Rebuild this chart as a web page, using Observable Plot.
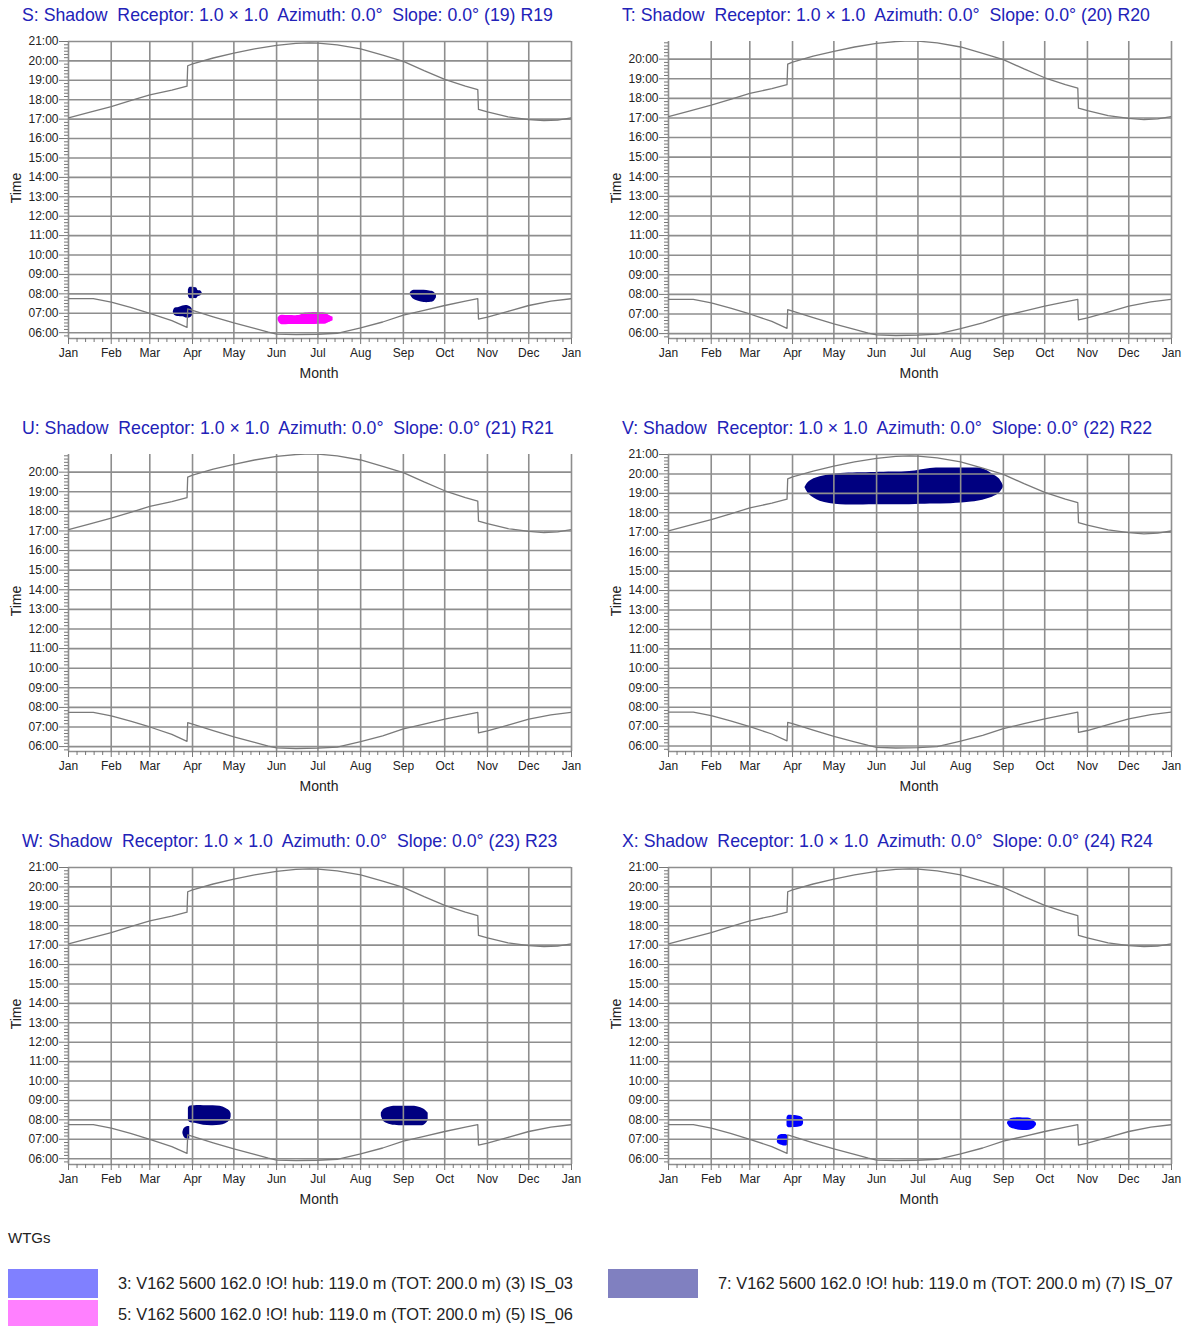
<!DOCTYPE html>
<html><head><meta charset="utf-8">
<script src="https://cdn.jsdelivr.net/npm/d3@7"></script>
<script src="https://cdn.jsdelivr.net/npm/@observablehq/plot@0.6"></script>
<style>
body{margin:0;background:#fff;font-family:"Liberation Sans",Arial,sans-serif;}
#wrap{position:relative;width:1190px;height:1326px;overflow:hidden;background:#fff;}
.title{position:absolute;white-space:pre;color:#2222b8;font-size:17.7px;line-height:20px;}
.panel{position:absolute;}
.xlab{position:absolute;font-size:14px;color:#222;transform:translateX(-50%);}
.ylab{position:absolute;font-size:14px;color:#222;transform:translate(-50%,-50%) rotate(-90deg);}
.legtitle{position:absolute;font-size:15px;color:#222;}
.sw{position:absolute;width:90px;height:29px;}
.legtext{position:absolute;font-size:16.4px;color:#222;white-space:pre;line-height:18px;}
</style></head><body><div id="wrap"></div>
<script>
// ---- data ----
const monthStarts = [0, 31, 59, 90, 120, 151, 181, 212, 243, 273, 304, 334, 365];
const monthLabels = ["Jan","Feb","Mar","Apr","May","Jun","Jul","Aug","Sep","Oct","Nov","Dec","Jan"];

const sunsetDays  = [0, 15, 31, 45, 59, 75, 86, 86.5, 90, 105, 120, 135, 151, 165, 175, 181, 195, 212, 228, 243, 258, 273, 288, 297, 297.5, 304, 319, 334, 345, 355, 365];
const sunsetHours = [17.07, 17.35, 17.65, 17.95, 18.25, 18.5, 18.7, 19.75, 19.85, 20.15, 20.4, 20.62, 20.8, 20.9, 20.93, 20.92, 20.83, 20.62, 20.3, 19.98, 19.5, 19.05, 18.7, 18.52, 17.5, 17.37, 17.12, 16.98, 16.92, 16.95, 17.07];
const sunriseDays  = [0, 18, 31, 45, 59, 75, 86, 86.5, 90, 105, 120, 135, 145, 151, 165, 181, 195, 212, 228, 243, 258, 273, 288, 297, 297.5, 304, 319, 334, 350, 365];
const sunriseHours = [7.75, 7.75, 7.57, 7.3, 7.0, 6.62, 6.27, 7.22, 7.15, 6.82, 6.5, 6.22, 6.03, 5.93, 5.9, 5.92, 5.97, 6.25, 6.55, 6.9, 7.15, 7.4, 7.62, 7.75, 6.7, 6.8, 7.1, 7.4, 7.62, 7.75];

const panelIds  = ["S","T","U","V","W","X"];
const panelNums = [19, 20, 21, 22, 23, 24];
const yTop      = [21, 20.9, 20.9, 21, 21, 21];
const yBottom   = [5.7, 5.75, 5.75, 5.72, 5.7, 5.7];

const wtgIds    = [3, 5, 7];
const wtgLabels = ["3: V162 5600 162.0 !O! hub: 119.0 m (TOT: 200.0 m) (3) IS_03",
                   "5: V162 5600 162.0 !O! hub: 119.0 m (TOT: 200.0 m) (5) IS_06",
                   "7: V162 5600 162.0 !O! hub: 119.0 m (TOT: 200.0 m) (7) IS_07"];
const wtgFill   = ["#0000ff", "#ff00ff", "#000080"];
const wtgSwatch = ["#8080ff", "#ff80ff", "#8080c0"];

// shadow periods: per blob, day of year with start / end time (hours)
const blobPanel = ["S","S","S","S","V","W","W","W","X","X","X"];
const blobWtg   = [7, 7, 7, 5, 7, 7, 7, 7, 3, 3, 3];
const blobDays = [
  [76, 77, 80, 83, 86, 89, 91],
  [87, 88, 91, 93, 94, 96, 97],
  [248, 250, 254, 258, 262, 265, 267],
  [152, 154, 160, 168, 171, 176, 182, 187, 189, 192],
  [99, 102, 110, 125, 150, 175, 190, 205, 220, 228, 235, 240, 243],
  [87, 88, 92, 98, 105, 110, 114, 117, 118],
  [83, 84, 86, 88],
  [227, 229, 234, 240, 247, 253, 258, 261],
  [86, 87, 90, 94, 97, 98],
  [79, 80, 83, 86, 87],
  [246, 248, 252, 257, 262, 265, 267]
];
const blobStart = [
  [7.05, 6.9, 6.83, 6.82, 6.75, 6.8, 7.0],
  [7.9, 7.76, 7.76, 7.76, 7.85, 7.9, 8.0],
  [7.95, 7.75, 7.62, 7.55, 7.55, 7.6, 7.8],
  [6.65, 6.43, 6.42, 6.42, 6.42, 6.42, 6.43, 6.45, 6.52, 6.62],
  [19.3, 18.95, 18.6, 18.42, 18.42, 18.42, 18.45, 18.47, 18.55, 18.65, 18.8, 19.0, 19.3],
  [7.95, 7.88, 7.82, 7.72, 7.7, 7.72, 7.8, 7.95, 8.15],
  [7.3, 7.1, 7.0, 7.0],
  [8.2, 7.9, 7.75, 7.7, 7.7, 7.7, 7.72, 7.95],
  [7.7, 7.6, 7.6, 7.62, 7.68, 7.8],
  [6.85, 6.75, 6.67, 6.67, 6.75],
  [7.8, 7.6, 7.5, 7.45, 7.47, 7.55, 7.72]
];
const blobEnd = [
  [7.05, 7.25, 7.3, 7.38, 7.4, 7.3, 7.05],
  [8.2, 8.33, 8.33, 8.3, 8.17, 8.15, 8.05],
  [8.05, 8.17, 8.18, 8.18, 8.15, 8.1, 7.95],
  [6.75, 6.88, 6.88, 6.9, 7.0, 7.03, 7.03, 7.0, 6.9, 6.8],
  [19.3, 19.6, 19.85, 20.02, 20.08, 20.12, 20.28, 20.3, 20.3, 20.27, 20.0, 19.75, 19.4],
  [8.6, 8.7, 8.73, 8.73, 8.73, 8.7, 8.6, 8.45, 8.3],
  [7.35, 7.55, 7.65, 7.65],
  [8.35, 8.55, 8.68, 8.7, 8.7, 8.68, 8.55, 8.35],
  [8.1, 8.22, 8.22, 8.2, 8.12, 8.0],
  [7.0, 7.18, 7.24, 7.22, 7.1],
  [7.85, 8.05, 8.1, 8.1, 8.08, 7.95, 7.82]
];

// ---- build ----
const wrap = document.getElementById("wrap");
const sunset = sunsetDays.map((d, i) => ({day: d, h: sunsetHours[i]}));
const sunrise = sunriseDays.map((d, i) => ({day: d, h: sunriseHours[i]}));
const minorX = [];
for (let m = 0; m < 12; m++) {
  const a = monthStarts[m], b = monthStarts[m + 1];
  for (let k = 1; k < 5; k++) minorX.push(a + (b - a) * k / 5);
}
const fmtH = h => String(h).padStart(2, "0") + ":00";
const gridColor = "#8e8e8e";

panelIds.forEach((id, p) => {
  const col = p % 2, row = Math.floor(p / 2);
  const left = col * 600, top = row * 413;
  const title = document.createElement("div");
  title.className = "title";
  title.textContent = `${id}: Shadow  Receptor: 1.0 × 1.0  Azimuth: 0.0°  Slope: 0.0° (${panelNums[p]}) R${panelNums[p]}`;
  title.style.left = (left + 22) + "px";
  title.style.top = (top + 5) + "px";
  wrap.appendChild(title);

  const lo = yBottom[p], hi = yTop[p];
  const hours = d3.range(Math.ceil(lo), Math.floor(hi) + 1);
  const minorY = d3.range(Math.ceil(lo * 6), Math.floor(hi * 6) + 1).map(v => v / 6).filter(v => Math.abs(v - Math.round(v)) > 1e-6);

  const blobMarks = [];
  blobPanel.forEach((bp, b) => {
    if (bp !== id) return;
    const data = blobDays[b].map((d, i) => ({day: d, lo: blobStart[b][i], hi: blobEnd[b][i]}));
    const fill = wtgFill[wtgIds.indexOf(blobWtg[b])];
    blobMarks.push(Plot.areaY(data, {x: "day", y1: "lo", y2: "hi", fill, curve: "catmull-rom"}));
  });

  const chart = Plot.plot({
    width: 590, height: 353,
    marginTop: 11, marginBottom: 45, marginLeft: 68, marginRight: 19,
    style: {fontFamily: '"Liberation Sans", Arial, sans-serif', color: "#222", background: "transparent"},
    x: {domain: [0, 365]},
    y: {domain: [lo, hi]},
    marks: [
      ...blobMarks,
      Plot.ruleY(hours, {stroke: gridColor, strokeWidth: 1.6}),
      Plot.ruleX(monthStarts, {stroke: gridColor, strokeWidth: 1.6}),
      Plot.ruleY([lo], {stroke: gridColor, strokeWidth: 1.6}),
      Plot.line(sunset, {x: "day", y: "h", stroke: "#7a7a7a", strokeWidth: 1.3, clip: true}),
      Plot.line(sunrise, {x: "day", y: "h", stroke: "#7a7a7a", strokeWidth: 1.3, clip: true}),
      Plot.axisY(hours, {tickSize: 9, tickPadding: 1, tickFormat: fmtH, fontSize: 12, label: null, stroke: "#777"}),
      Plot.axisY(minorY, {tickSize: 4, tickFormat: () => "", label: null, stroke: "#777"}),
      Plot.axisX(monthStarts, {tickSize: 6, tickPadding: 4, tickFormat: d => monthLabels[monthStarts.indexOf(d)], fontSize: 12, label: null, stroke: "#777"}),
      Plot.axisX(minorX, {tickSize: 4, tickFormat: () => "", label: null, stroke: "#777"})
    ]
  });
  chart.classList.add("panel");
  chart.style.left = left + "px";
  chart.style.top = (top + 30) + "px";
  wrap.appendChild(chart);

  const xl = document.createElement("div");
  xl.className = "xlab"; xl.textContent = "Month";
  xl.style.left = (left + 319) + "px"; xl.style.top = (top + 365) + "px";
  wrap.appendChild(xl);
  const yl = document.createElement("div");
  yl.className = "ylab"; yl.textContent = "Time";
  yl.style.left = (left + 16) + "px"; yl.style.top = (top + 188) + "px";
  wrap.appendChild(yl);
});

// legend
const lt = document.createElement("div");
lt.className = "legtitle"; lt.textContent = "WTGs";
lt.style.left = "8px"; lt.style.top = "1229px";
wrap.appendChild(lt);
const legPos = [[8, 1269], [8, 1300], [608, 1269]];
wtgIds.forEach((w, i) => {
  const [x, y] = legPos[i];
  const sw = document.createElement("div");
  sw.className = "sw"; sw.style.background = wtgSwatch[i];
  sw.style.left = x + "px"; sw.style.top = y + "px";
  wrap.appendChild(sw);
  const tx = document.createElement("div");
  tx.className = "legtext"; tx.textContent = wtgLabels[i];
  tx.style.left = (x + 110) + "px"; tx.style.top = (y + 5) + "px";
  wrap.appendChild(tx);
});
</script></body></html>
